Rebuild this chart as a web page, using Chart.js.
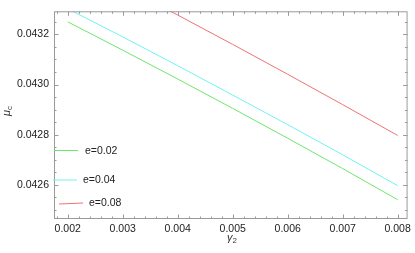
<!DOCTYPE html>
<html><head><meta charset="utf-8">
<script src="https://cdn.jsdelivr.net/npm/chart.js@4/dist/chart.umd.min.js"></script>
<style>html,body{margin:0;padding:0;background:#fff}#w{width:415px;height:253px;position:relative}</style>
</head><body><div id="w"><canvas id="c"></canvas></div>
<script>
const gamma2 = [0.002, 0.003, 0.004, 0.005, 0.006, 0.007, 0.008];
const mu_e002 = [0.043250, 0.043137, 0.043022, 0.042905, 0.042786, 0.042665, 0.042541];
const mu_e004 = [0.043302, 0.043190, 0.043075, 0.042958, 0.042840, 0.042720, 0.042597];
const mu_e008 = [0.043505, 0.043392, 0.043277, 0.043160, 0.043041, 0.042920, 0.042797];
const seriesLabels = ['e=0.02', 'e=0.04', 'e=0.08'];
const xTickValues = [0.002, 0.003, 0.004, 0.005, 0.006, 0.007, 0.008];
const yTickValues = [0.0426, 0.0428, 0.0430, 0.0432];

const colors = ['#6ee66e', '#70f2f2', '#f07272'];
const FONT = 'Liberation Sans, Arial, sans-serif';
const toPts = ys => gamma2.map((x, i) => ({x, y: ys[i]}));

const framePlugin = {
  id: 'frame',
  afterDatasetsDraw(chart) {
    const {ctx, chartArea: a, scales: {x, y}} = chart;
    ctx.save();
    ctx.strokeStyle = '#9a9a9a';
    ctx.lineWidth = 1;
    ctx.strokeRect(a.left + 0.5, a.top + 0.5, a.right - a.left - 1, a.bottom - a.top - 1);
    ctx.beginPath();
    for (let k = 9; k <= 41; k++) {
      const v = k * 0.0002;
      const px = Math.round(x.getPixelForValue(v)) + 0.5;
      if (px < a.left || px > a.right) continue;
      const major = k % 5 === 0;
      const len = major ? 4.5 : 2.5;
      ctx.moveTo(px, a.bottom); ctx.lineTo(px, a.bottom - len);
      ctx.moveTo(px, a.top); ctx.lineTo(px, a.top + len);
    }
    for (let k = 849; k <= 866; k++) {
      const v = k * 0.00005;
      const py = Math.round(y.getPixelForValue(v)) + 0.5;
      if (py < a.top || py > a.bottom) continue;
      const major = k % 4 === 0;
      const len = major ? 4.5 : 2.5;
      ctx.moveTo(a.left, py); ctx.lineTo(a.left + len, py);
      ctx.moveTo(a.right, py); ctx.lineTo(a.right - len, py);
    }
    ctx.stroke();
    ctx.restore();

    ctx.save();
    const items = [
      {x0: 54, x1: 78, y0: 150.5, y1: 150.5, tx: 85, ty: 151},
      {x0: 53, x1: 77, y0: 180, y1: 180, tx: 83, ty: 180},
      {x0: 59, x1: 83, y0: 204, y1: 203, tx: 89, ty: 203}
    ];
    items.forEach((it, i) => {
      ctx.beginPath();
      ctx.strokeStyle = colors[i];
      ctx.lineWidth = 1;
      ctx.moveTo(it.x0, it.y0); ctx.lineTo(it.x1, it.y1);
      ctx.stroke();
    });
    ctx.font = '10.5px ' + FONT;
    ctx.textBaseline = 'middle';
    ctx.fillStyle = '#222';
    items.forEach((it, i) => ctx.fillText(seriesLabels[i], it.tx, it.ty));

    ctx.fillStyle = '#333';
    ctx.textBaseline = 'alphabetic';
    ctx.font = 'italic 11px ' + FONT;
    const gx = 227;
    ctx.fillText('γ', gx, 241);
    const gw = ctx.measureText('γ').width;
    ctx.font = '8px ' + FONT;
    ctx.fillText('2', gx + gw, 243);

    ctx.translate(10, 110);
    ctx.rotate(-Math.PI / 2);
    ctx.font = 'italic 11px ' + FONT;
    ctx.fillText('μ', -6, 0);
    const mw = ctx.measureText('μ').width;
    ctx.font = '8px ' + FONT;
    ctx.fillText('c', -6 + mw, 2);
    ctx.restore();
  }
};

new Chart(document.getElementById('c'), {
  type: 'scatter',
  data: {
    datasets: [mu_e002, mu_e004, mu_e008].map((d, i) => ({
      label: seriesLabels[i],
      data: toPts(d),
      showLine: true,
      borderColor: colors[i],
      backgroundColor: colors[i],
      borderWidth: 1,
      pointRadius: 0,
      tension: 0
    }))
  },
  options: {
    responsive: true,
    maintainAspectRatio: false,
    animation: false,
    devicePixelRatio: 1,
    layout: {padding: {left: 0, right: 7, top: 0, bottom: 0}},
    plugins: {legend: {display: false}, tooltip: {enabled: false}},
    scales: {
      x: {
        type: 'linear', min: 0.00175, max: 0.00818,
        grid: {display: false, drawTicks: false}, border: {display: false},
        afterBuildTicks: s => { s.ticks = xTickValues.map(v => ({value: v})); },
        afterFit: s => { s.height = 34; },
        ticks: {font: {family: FONT, size: 10.5}, color: '#222', padding: 4, maxRotation: 0,
          callback: v => Number(v).toFixed(3)}
      },
      y: {
        type: 'linear', min: 0.042464, max: 0.043292,
        grid: {display: false, drawTicks: false}, border: {display: false},
        afterBuildTicks: s => { s.ticks = yTickValues.map(v => ({value: v})); },
        afterFit: s => { s.width = 54; },
        ticks: {font: {family: FONT, size: 10.5}, color: '#222', padding: 5,
          callback: v => Number(v).toFixed(4)}
      }
    }
  },
  plugins: [framePlugin]
});
</script>
</body></html>
